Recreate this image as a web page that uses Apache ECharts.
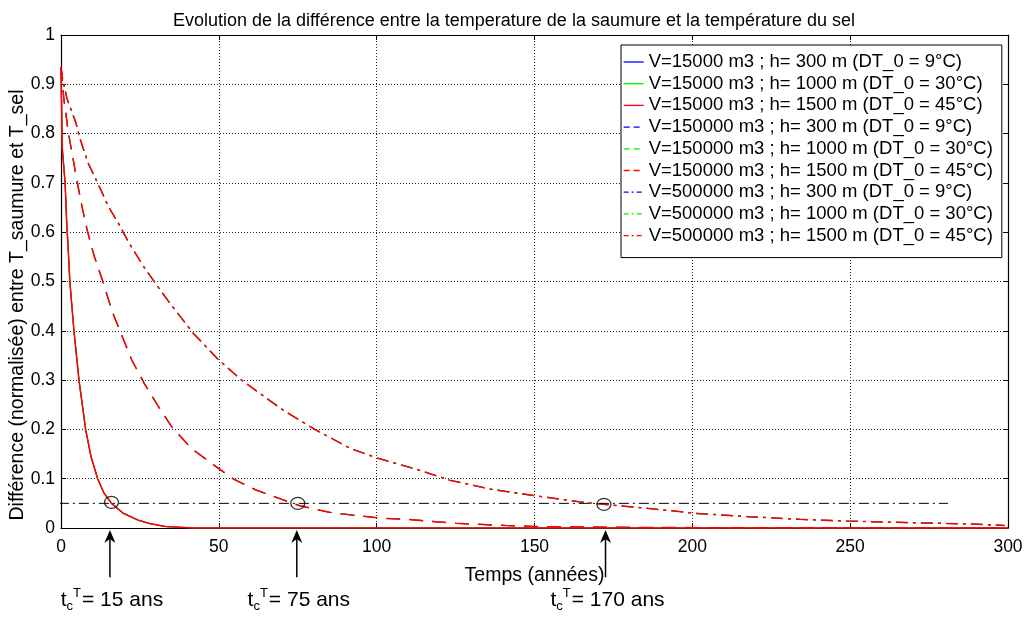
<!DOCTYPE html>
<html>
<head>
<meta charset="utf-8">
<script src="https://cdn.jsdelivr.net/npm/echarts@6/dist/echarts.min.js"></script>
<style>html,body{margin:0;padding:0;background:#fff;}#c{width:1028px;height:617px;}</style>
</head>
<body>
<div id="c"></div>
<script>
// ---------- data ----------
var titleText = 'Evolution de la différence entre la temperature de la saumure et la température du sel';
var xAxisName = 'Temps (années)';
var yAxisName = 'Différence (normalisée) entre T_saumure et T_sel';

// V = 15000 m3 (solid)
var t15 = [0, 0.4, 1.3, 1.8, 2.3, 2.8, 4.1, 5.7, 7.8, 9.5, 11.6, 13.6, 16, 19.7, 24.4, 28, 33, 42, 300];
var v15 = [0.93, 0.77, 0.70, 0.62, 0.564, 0.50, 0.40, 0.30, 0.20, 0.145, 0.10, 0.071, 0.05, 0.03, 0.016, 0.009, 0.003, 0, 0];
// V = 150000 m3 (dashed)
var t150 = [0, 0.95, 1.6, 2.3, 3.7, 5.1, 6.65, 8.3, 10.5, 13.2, 16.3, 19.5, 22.4, 26.4, 31, 35, 41.2, 47.7, 54.7, 61.8, 70, 75.7, 85, 93.7, 102, 109.5, 125, 141, 150, 180, 220, 300];
var v150 = [0.935, 0.868, 0.838, 0.803, 0.753, 0.703, 0.652, 0.604, 0.552, 0.501, 0.4375, 0.387, 0.341, 0.293, 0.245, 0.206, 0.162, 0.131, 0.099, 0.077, 0.058, 0.045, 0.032, 0.025, 0.0197, 0.0176, 0.0095, 0.005, 0.003, 0.0012, 0.0004, 0];
// V = 500000 m3 (dash-dot)
var t500 = [0, 0.4, 1.9, 3.4, 4.75, 6, 8.6, 12.4, 15, 18.2, 21.3, 26.1, 31.4, 34.5, 41.9, 49.8, 57.2, 63, 70.4, 80.4, 91.5, 100, 111.6, 123.2, 135.9, 149.6, 164.4, 171.8, 185.5, 195, 200.3, 218, 234, 248.9, 268, 289, 299];
var v500 = [0.935, 0.915, 0.871, 0.845, 0.821, 0.79, 0.74, 0.689, 0.652, 0.618, 0.581, 0.531, 0.483, 0.456, 0.395, 0.342, 0.30, 0.273, 0.239, 0.20, 0.162, 0.142, 0.121, 0.097, 0.079, 0.066, 0.053, 0.048, 0.04, 0.034, 0.030, 0.023, 0.0176, 0.014, 0.011, 0.008, 0.005];

var volumes = ['15000', '150000', '500000'];
var depths = ['300', '1000', '1500'];
var dT0 = ['9', '30', '45'];

// threshold line and characteristic times
var refT = [-7, 281];
var refV = 0.05;
var circleT = [16, 75, 172];
var circleV = [0.052, 0.05, 0.048];
var arrowT = [15.5, 74.7, 172.5];
var arrowLabels = ['15', '75', '170'];

// ---------- build ----------
var FONT = "'Liberation Sans', Arial, sans-serif";
function pairs(t, v) { return t.map(function (x, i) { return [x, v[i]]; }); }
var curves = [pairs(t15, v15), pairs(t150, v150), pairs(t500, v500)];
var dashes = ['solid', [14, 9], [12, 5, 3, 5]];
var legendDashes = ['solid', [6, 4], [5, 3, 2, 3]];
var colors = ['#0000ff', '#00ee00', '#ff0000'];
var widths = [1.1, 1.1, 1.5];

var series = [];
var legendData = [];
for (var vi = 0; vi < 3; vi++) {
  for (var hi = 0; hi < 3; hi++) {
    var name = 'V=' + volumes[vi] + ' m3 ; h= ' + depths[hi] + ' m (DT_0 = ' + dT0[hi] + '°C)';
    legendData.push({ name: name, lineStyle: { type: legendDashes[vi], width: 1.3 } });
    series.push({
      type: 'line', name: name, data: curves[vi], symbol: 'none', showSymbol: false,
      lineStyle: { color: colors[hi], width: widths[hi], type: dashes[vi] },
      itemStyle: { color: colors[hi] },
      z: 3 + hi, animation: false
    });
  }
}
series.push({
  type: 'line', name: 'ref', data: refT.map(function (t) { return [t, refV]; }),
  symbol: 'none', clip: false, silent: true, animation: false,
  lineStyle: { color: '#000', width: 1, type: [10, 4, 2, 4] }, z: 8
});
series.push({
  type: 'scatter', name: 'circles', data: pairs(circleT, circleV), symbol: 'circle',
  symbolSize: [14, 12], silent: true, animation: false,
  itemStyle: { color: 'rgba(0,0,0,0)', borderColor: '#000', borderWidth: 1.2 }, z: 9
});
series.push({
  type: 'custom', name: 'arrows', data: arrowT.map(function (t, i) { return [t, i]; }),
  clip: false, silent: true, animation: false, z: 10,
  renderItem: function (params, api) {
    var t = api.value(0);
    var idx = api.value(1);
    var tip = api.coord([t, -0.004]);
    var tail = api.coord([t, -0.1]);
    var lab = api.coord([t, -0.146]);
    return {
      type: 'group', children: [
        { type: 'line', shape: { x1: tail[0], y1: tail[1], x2: tip[0], y2: tip[1] + 8 }, style: { stroke: '#000', lineWidth: 1.5 } },
        { type: 'polygon', shape: { points: [[tip[0], tip[1]], [tip[0] - 5.5, tip[1] + 13], [tip[0], tip[1] + 9], [tip[0] + 5.5, tip[1] + 13]] }, style: { fill: '#000' } },
        {
          type: 'text', x: lab[0] + 2, y: lab[1],
          style: {
            text: '{t|t}{c|c}{T|T}{m|= ' + arrowLabels[idx] + ' ans}',
            align: 'center', verticalAlign: 'middle', fill: '#000',
            rich: {
              t: { fontSize: 21, fontFamily: FONT, lineHeight: 26, verticalAlign: 'middle' },
              c: { fontSize: 13, fontFamily: FONT, lineHeight: 15, verticalAlign: 'bottom' },
              T: { fontSize: 13, fontFamily: FONT, lineHeight: 15, verticalAlign: 'top', padding: [0, 1, 0, 0] },
              m: { fontSize: 21, fontFamily: FONT, lineHeight: 26, verticalAlign: 'middle' }
            }
          }
        }
      ]
    };
  }
});

var gridLine = { show: true, lineStyle: { color: '#222', width: 1, type: [1, 2] } };
var axisLine = { show: true, onZero: false, lineStyle: { color: '#000', width: 1.2 } };
var tick = { show: true, inside: true, length: 5, lineStyle: { color: '#000' } };
var tickLabel = { color: '#000', fontSize: 17.5, fontFamily: FONT };

var option = {
  animation: false,
  backgroundColor: '#fff',
  title: {
    text: titleText, left: 'center', top: 7,
    textStyle: { fontSize: 18, fontWeight: 'normal', color: '#000', fontFamily: FONT }
  },
  grid: { left: 61, right: 20, top: 35, bottom: 89 },
  legend: {
    data: legendData, orient: 'vertical', left: 621, top: 45,
    backgroundColor: '#fff', borderColor: '#000', borderWidth: 1,
    padding: [7, 9, 12, 2], itemWidth: 20, itemHeight: 12, itemGap: 1.7,
    itemStyle: { opacity: 0 },
    textStyle: { fontSize: 18.5, fontFamily: FONT, color: '#000', lineHeight: 20 },
    selectedMode: false
  },
  xAxis: [{
    type: 'value', min: 0, max: 300, interval: 50,
    name: xAxisName, nameLocation: 'middle', nameGap: 38,
    nameTextStyle: { fontSize: 19.5, fontFamily: FONT, color: '#000' },
    axisLine: axisLine, axisTick: tick, splitLine: gridLine,
    axisLabel: Object.assign({ margin: 10 }, tickLabel)
  }, {
    type: 'value', min: 0, max: 300, interval: 50, position: 'top',
    axisLine: axisLine, axisTick: tick, splitLine: { show: false }, axisLabel: { show: false }
  }],
  yAxis: [{
    type: 'value', min: 0, max: 1, interval: 0.1,
    axisLine: axisLine, axisTick: tick, splitLine: gridLine,
    axisLabel: Object.assign({ margin: 6, formatter: function (v) { return String(+v.toFixed(1)); } }, tickLabel)
  }, {
    type: 'value', min: 0, max: 1, interval: 0.1, position: 'right',
    axisLine: axisLine, axisTick: tick, splitLine: { show: false }, axisLabel: { show: false }
  }],
  graphic: [{
    type: 'text', x: 18, y: 305, rotation: Math.PI / 2,
    style: { text: yAxisName, fontSize: 19.5, fontFamily: FONT, fill: '#000', align: 'center', verticalAlign: 'middle' }
  }],
  series: series
};

var chart = echarts.init(document.getElementById('c'), null, { renderer: 'canvas' });
chart.setOption(option);
</script>
</body>
</html>
